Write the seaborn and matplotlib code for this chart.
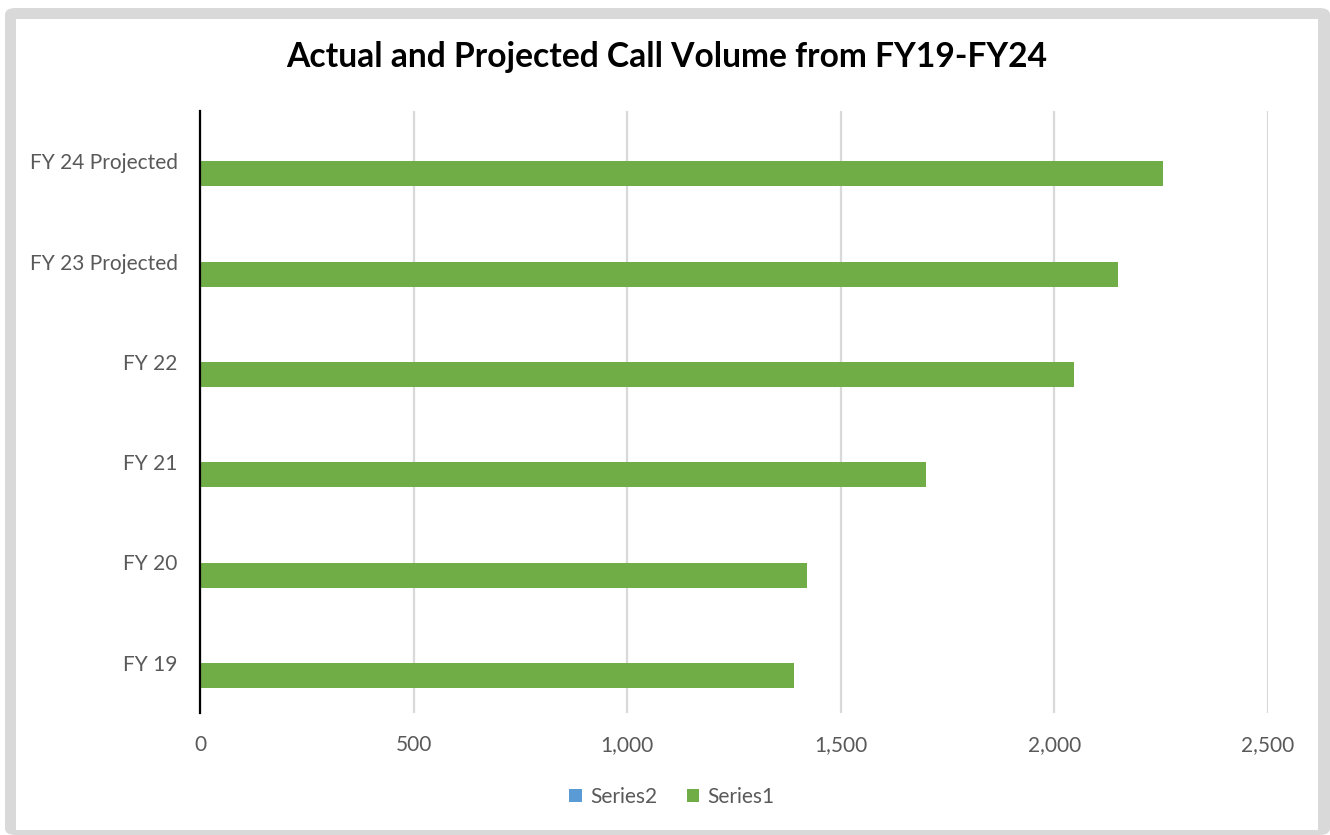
import matplotlib
matplotlib.use("Agg")
import matplotlib.pyplot as plt
from matplotlib.patches import FancyBboxPatch, Rectangle
import seaborn as sns
import pandas as pd

categories = ["FY 19", "FY 20", "FY 21", "FY 22", "FY 23 Projected", "FY 24 Projected"]
series1 = [1390, 1420, 1700, 2045, 2150, 2255]
series2 = [0, 0, 0, 0, 0, 0]
x_ticks = [0, 500, 1000, 1500, 2000, 2500]
x_tick_labels = ["0", "500", "1,000", "1,500", "2,000", "2,500"]
title = "Actual and Projected Call Volume from FY19-FY24"

df = pd.DataFrame({
    "category": categories * 2,
    "value": series2 + series1,
    "series": ["Series2"] * len(categories) + ["Series1"] * len(categories),
})

sns.set_theme(style="white")
plt.rcParams["font.family"] = ["Lato", "DejaVu Sans"]

W, H = 1330, 835
fig = plt.figure(figsize=(W / 100, H / 100), dpi=100)
fig.patch.set_facecolor("white")

def px(x, y):
    return x / W, 1 - y / H

x0, y0 = px(5, 835)
fig.patches.append(FancyBboxPatch((x0, y0), (1330 - 5) / W, (835 - 8) / H,
                                  boxstyle="round,pad=0,rounding_size=0.008",
                                  transform=fig.transFigure, facecolor="#D9D9D9",
                                  edgecolor="none", zorder=-10))
x1, y1 = px(16, 830)
fig.patches.append(Rectangle((x1, y1), (1318 - 16) / W, (830 - 19) / H,
                             transform=fig.transFigure, facecolor="white",
                             edgecolor="none", zorder=-9))

left, right = 200 / W, 1268 / W
top, bottom = 1 - 111 / H, 1 - 713 / H
ax = fig.add_axes([left, bottom, right - left, top - bottom])
ax.set_facecolor("none")

order = categories[::-1]
sns.barplot(data=df, x="value", y="category", hue="series", order=order,
            hue_order=["Series2", "Series1"], palette=["#5B9BD5", "#70AD47"],
            orient="h", width=0.5, dodge=True, linewidth=0, ax=ax,
            errorbar=None, saturation=1)

ax.set_xlim(0, 2500)
ax.set_ylim(len(categories) - 0.5, -0.5)
ax.set_xticks(x_ticks)
ax.set_xticklabels(x_tick_labels)
ax.set_xlabel("")
ax.set_ylabel("")
ax.grid(axis="x", color="#D9D9D9", linewidth=1.6)
ax.grid(axis="y", visible=False)
ax.set_axisbelow(True)
for s in ["top", "right", "bottom"]:
    ax.spines[s].set_visible(False)
ax.spines["left"].set_color("black")
ax.spines["left"].set_linewidth(1.6)
ax.spines["left"].set_zorder(5)
ax.tick_params(axis="both", length=0, labelsize=15, labelcolor="#595959")
ax.tick_params(axis="y", pad=16)
ax.tick_params(axis="x", pad=16)

handles, labels = ax.get_legend_handles_labels()
ax.legend_.remove()
fig.legend(handles, labels, loc="center", bbox_to_anchor=(672 / W, 1 - 797 / H),
           ncol=2, frameon=False, fontsize=15, labelcolor="#595959",
           handlelength=0.6, handleheight=0.6, handletextpad=0.4, columnspacing=1.4)

fig.text(667 / W, 1 - 57 / H, title, ha="center", va="center",
         fontsize=24.2, fontweight="bold", color="black")

fig.savefig("out.png", dpi=100, facecolor=fig.get_facecolor())
